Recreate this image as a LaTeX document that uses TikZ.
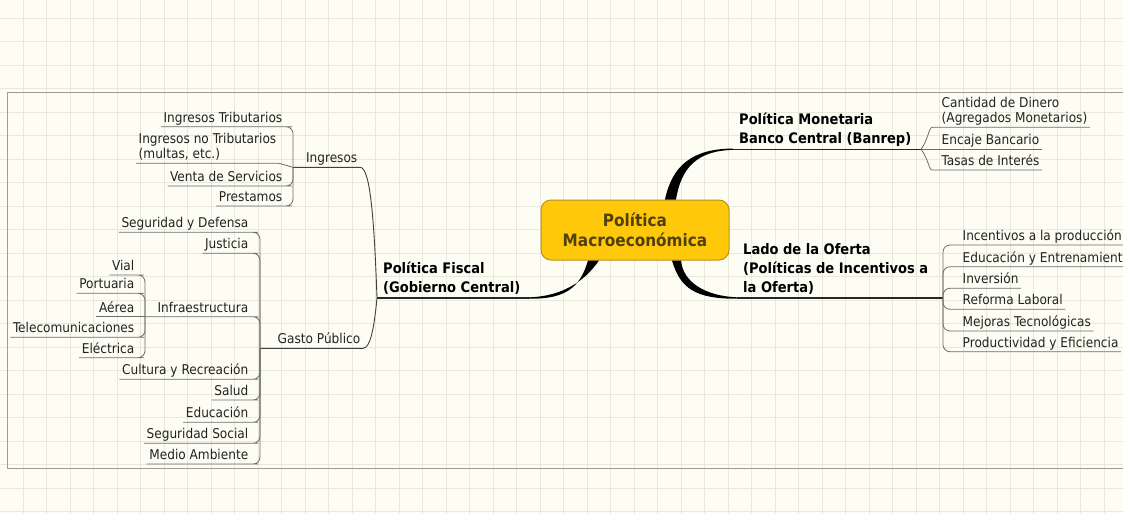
\documentclass[tikz,border=0pt]{standalone}
\usepackage{fontspec}
\setmainfont{DejaVu Sans Condensed}

\definecolor{paper}{RGB}{253,253,244}
\definecolor{gridtone}{RGB}{232,232,219}
\definecolor{frametone}{RGB}{158,158,152}
\definecolor{linetone}{RGB}{110,110,105}
\definecolor{inktone}{RGB}{35,35,35}
\definecolor{rootfill}{RGB}{255,200,10}
\definecolor{rootedge}{RGB}{185,145,25}
\definecolor{roottext}{RGB}{80,64,12}

\begin{document}
\begin{tikzpicture}[x=1pt, y=-1pt,
    gridline/.style={draw=gridtone, line width=1pt},
    frameline/.style={draw=frametone, line width=1pt},
    rootbox/.style={draw=rootedge, fill=rootfill, line width=1pt, rounded corners=10pt,
        minimum width=188pt, minimum height=60pt, align=center, text=roottext,
        font=\bfseries\fontsize{17}{20}\selectfont},
    topic/.style={font=\bfseries\fontsize{14.5}{19}\selectfont, text=black, align=left,
        inner xsep=6pt, inner ysep=1pt, text depth=4.5pt},
    leaf/.style={font=\fontsize{13.5}{15.3}\selectfont, text=inktone, align=left,
        inner xsep=2.5pt, inner ysep=1pt, text depth=3.2pt},
    trunk/.style={fill=black},
    mainline/.style={draw=black!85, line width=1.1pt},
    branch/.style={draw=black!75, line width=0.9pt},
    twig/.style={draw=linetone, line width=0.8pt, rounded corners=7pt}]

    % Paper, grid and frame
    \useasboundingbox (0,0) rectangle (1123,514);
    \fill[paper] (0,0) rectangle (1123,514);
    \foreach \gx in {0,...,47}
        \draw[gridline] (23.3+23.5*\gx,0) -- (23.3+23.5*\gx,514);
    \foreach \gy in {0,...,21}
        \draw[gridline] (0,18.3+23.5*\gy) -- (1123,18.3+23.5*\gy);
    \draw[frameline] (7,92) rectangle (1140,468.3);

    % Central topic
    \node[rootbox] (macro) at (635,230) {Política\\Macroeconómica};

    % Fork points
    \coordinate (ffork) at (377,298);
    \coordinate (fend) at (530,298);
    \coordinate (mend) at (733,149.3);
    \coordinate (mfork) at (921,149.3);
    \coordinate (oend) at (737,298);
    \coordinate (ofork) at (943,298);
    \coordinate (ingf) at (293,167.3);
    \coordinate (gasf) at (260,348.3);
    \coordinate (inff) at (145,316.7);

    % Main topics
    \node[topic, anchor=south west] (fiscal) at (ffork) {Política Fiscal\\(Gobierno Central)};
    \node[topic, anchor=south west] (monetaria) at (mend) {Política Monetaria\\Banco Central (Banrep)};
    \node[topic, anchor=south west] (oferta) at (oend) {Lado de la Oferta\\(Políticas de Incentivos a\\la Oferta)};

    % Thick branches out of the central topic
    \fill[trunk] ([xshift=-47pt]macro.south) .. controls (580,288) and (565,299) .. ([yshift=-0.7pt]fend)
        -- ([yshift=0.7pt]fend) .. controls (562,296) and (584,282) .. ([xshift=-36pt]macro.south) -- cycle;
    \fill[trunk] ([xshift=37pt]macro.south) .. controls (680,288) and (695,299) .. ([yshift=-0.7pt]oend)
        -- ([yshift=0.7pt]oend) .. controls (705,296) and (683,282) .. ([xshift=46pt]macro.south) -- cycle;
    \fill[trunk] ([xshift=30pt]macro.north) .. controls (672,166) and (692,148.6) .. ([yshift=0.7pt]mend)
        -- ([yshift=-0.6pt]mend) .. controls (697,150.6) and (681,168) .. ([xshift=41pt]macro.north) -- cycle;
    \draw[mainline] (ffork) -- (fend);
    \draw[mainline] (mend) -- (mfork);
    \draw[mainline] (oend) -- (ofork);

    % Politica fiscal: ingresos
    \node[leaf, anchor=south east] (ingresos) at (360,167.3) {Ingresos};
    \draw[branch] (ffork) .. controls (374,215) and (370,167.3) .. (ingresos.south east) -- (ingf);
    \node[leaf, anchor=south east] (itrib) at (285,126.7) {Ingresos Tributarios};
    \node[leaf, anchor=south east] (inotrib) at (279,163.3) {Ingresos no Tributarios\\(multas, etc.)};
    \node[leaf, anchor=south east] (iventa) at (285,186) {Venta de Servicios};
    \node[leaf, anchor=south east] (iprest) at (285,206) {Prestamos};
    \draw[twig] (ingf) |- (itrib.south east) -- (itrib.south west);
    \draw[twig, rounded corners=0pt] (ingf) -- (inotrib.south east) -- (inotrib.south west);
    \draw[twig] (ingf) |- (iventa.south east) -- (iventa.south west);
    \draw[twig] (ingf) |- (iprest.south east) -- (iprest.south west);

    % Politica fiscal: gasto publico
    \node[leaf, anchor=south east] (gasto) at (363,348.3) {Gasto Público};
    \draw[branch] (ffork) .. controls (374,330) and (370,348.3) .. (gasto.south east) -- (gasf);
    \node[leaf, anchor=south east] (gseg) at (251,232.3) {Seguridad y Defensa};
    \node[leaf, anchor=south east] (gjus) at (251,253.3) {Justicia};
    \node[leaf, anchor=south east] (ginfra) at (251,316.7) {Infraestructura};
    \node[leaf, anchor=south east] (gcult) at (251,379.3) {Cultura y Recreación};
    \node[leaf, anchor=south east] (gsalud) at (251,400) {Salud};
    \node[leaf, anchor=south east] (gedu) at (251,422.3) {Educación};
    \node[leaf, anchor=south east] (gsoc) at (251,443.3) {Seguridad Social};
    \node[leaf, anchor=south east] (gmedio) at (251,464) {Medio Ambiente};
    \draw[twig] (gasf) |- (gseg.south east) -- (gseg.south west);
    \draw[twig] (gasf) |- (gjus.south east) -- (gjus.south west);
    \draw[twig] (gasf) |- (ginfra.south east) -- (inff);
    \draw[twig] (gasf) |- (gcult.south east) -- (gcult.south west);
    \draw[twig] (gasf) |- (gsalud.south east) -- (gsalud.south west);
    \draw[twig] (gasf) |- (gedu.south east) -- (gedu.south west);
    \draw[twig] (gasf) |- (gsoc.south east) -- (gsoc.south west);
    \draw[twig] (gasf) |- (gmedio.south east) -- (gmedio.south west);

    % Infraestructura
    \node[leaf, anchor=south east] (vial) at (137,275) {Vial};
    \node[leaf, anchor=south east] (portuaria) at (137,293.3) {Portuaria};
    \node[leaf, anchor=south east] (aerea) at (137,316.7) {Aérea};
    \node[leaf, anchor=south east] (telecom) at (137,337.3) {Telecomunicaciones};
    \node[leaf, anchor=south east] (electrica) at (137,357.7) {Eléctrica};
    \draw[twig] (inff) |- (vial.south east) -- (vial.south west);
    \draw[twig] (inff) |- (portuaria.south east) -- (portuaria.south west);
    \draw[twig] (inff) -- (aerea.south east) -- (aerea.south west);
    \draw[twig] (inff) |- (telecom.south east) -- (telecom.south west);
    \draw[twig] (inff) |- (electrica.south east) -- (electrica.south west);

    % Politica monetaria
    \node[leaf, anchor=south west] (cantidad) at (939,127.3) {Cantidad de Dinero\\(Agregados Monetarios)};
    \node[leaf, anchor=south west] (encaje) at (939,149.3) {Encaje Bancario};
    \node[leaf, anchor=south west] (tasas) at (939,170) {Tasas de Interés};
    \draw[twig] (mfork) .. controls (928,140) and (929,127.3) .. (cantidad.south west) -- (cantidad.south east);
    \draw[twig] (mfork) -- (encaje.south west) -- (encaje.south east);
    \draw[twig] (mfork) .. controls (928,158) and (929,170) .. (tasas.south west) -- (tasas.south east);

    % Lado de la oferta
    \node[leaf, anchor=south west] (incent) at (960,245) {Incentivos a la producción};
    \node[leaf, anchor=south west] (educ) at (960,266.7) {Educación y Entrenamiento};
    \node[leaf, anchor=south west] (inver) at (960,288.3) {Inversión};
    \node[leaf, anchor=south west] (reforma) at (960,309.3) {Reforma Laboral};
    \node[leaf, anchor=south west] (mejoras) at (960,331) {Mejoras Tecnológicas};
    \node[leaf, anchor=south west] (product) at (960,351.7) {Productividad y Eficiencia};
    \draw[twig] (ofork) |- (incent.south west) -- (incent.south east);
    \draw[twig] (ofork) |- (educ.south west) -- (educ.south east);
    \draw[twig] (ofork) |- (inver.south west) -- (inver.south east);
    \draw[twig] (ofork) |- (reforma.south west) -- (reforma.south east);
    \draw[twig] (ofork) |- (mejoras.south west) -- (mejoras.south east);
    \draw[twig] (ofork) |- (product.south west) -- (product.south east);

\end{tikzpicture}
\end{document}
